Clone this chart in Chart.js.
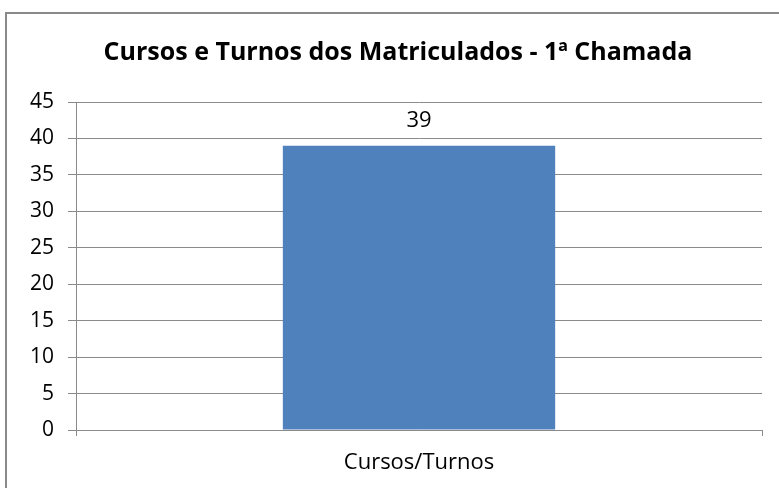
<!DOCTYPE html>
<html><head><meta charset="utf-8">
<script src="https://cdn.jsdelivr.net/npm/chart.js@4/dist/chart.umd.min.js"></script>
<style>html,body{margin:0;padding:0;background:#fff}#c{display:block}</style>
</head><body>
<div style="width:779px;height:488px"><canvas id="c" width="779" height="488"></canvas></div>
<script>
const chartTitle = "Cursos e Turnos dos Matriculados - 1ª Chamada";
const categories = ["Cursos/Turnos"];
const values = [39];
const yTicks = [0,5,10,15,20,25,30,35,40,45];

const FONT = "'Open Sans', Lato, sans-serif";
const decor = {
  id: 'decor',
  afterDraw(chart) {
    const ctx = chart.ctx;
    ctx.save();
    ctx.strokeStyle = '#8a8a8a';
    ctx.lineWidth = 2;
    ctx.strokeRect(6, 13, 800, 500);
    ctx.fillStyle = '#000';
    ctx.font = "bold 25px " + FONT;
    ctx.textAlign = 'center';
    ctx.textBaseline = 'middle';
    ctx.fillText(chartTitle, 398, 53);
    ctx.font = "22px " + FONT;
    const meta = chart.getDatasetMeta(0);
    meta.data.forEach((bar, i) => {
      ctx.fillText(String(values[i]), bar.x, bar.y - 25);
    });
    ctx.restore();
  }
};

new Chart(document.getElementById('c'), {
  type: 'bar',
  data: {
    labels: categories,
    datasets: [{ data: values, backgroundColor: '#4F81BD', borderWidth: 0,
      categoryPercentage: 1, barPercentage: 0.397 }]
  },
  options: {
    responsive: false, animation: false,
    layout: { padding: { top: 102, right: 17, left: 0, bottom: 0 } },
    plugins: { legend: { display: false }, title: { display: false }, tooltip: { enabled: false } },
    scales: {
      x: {
        grid: { drawOnChartArea: false, drawTicks: true, tickLength: 6, color: '#8a8a8a', offset: true },
        border: { color: '#8a8a8a', width: 1 },
        ticks: { color: '#000', font: { family: FONT, size: 22 }, padding: 14 },
        afterFit(s) { s.height = 58; }
      },
      y: {
        min: 0, max: 45,
        afterBuildTicks(s) { s.ticks = yTicks.map(v => ({ value: v })); },
        grid: { color: '#8a8a8a', tickLength: 8, drawTicks: true },
        border: { color: '#8a8a8a', width: 1 },
        ticks: { color: '#000', font: { family: FONT, size: 21 }, padding: 14 },
        afterFit(s) { s.width = 76; }
      }
    }
  },
  plugins: [decor]
});
</script>
</body></html>
